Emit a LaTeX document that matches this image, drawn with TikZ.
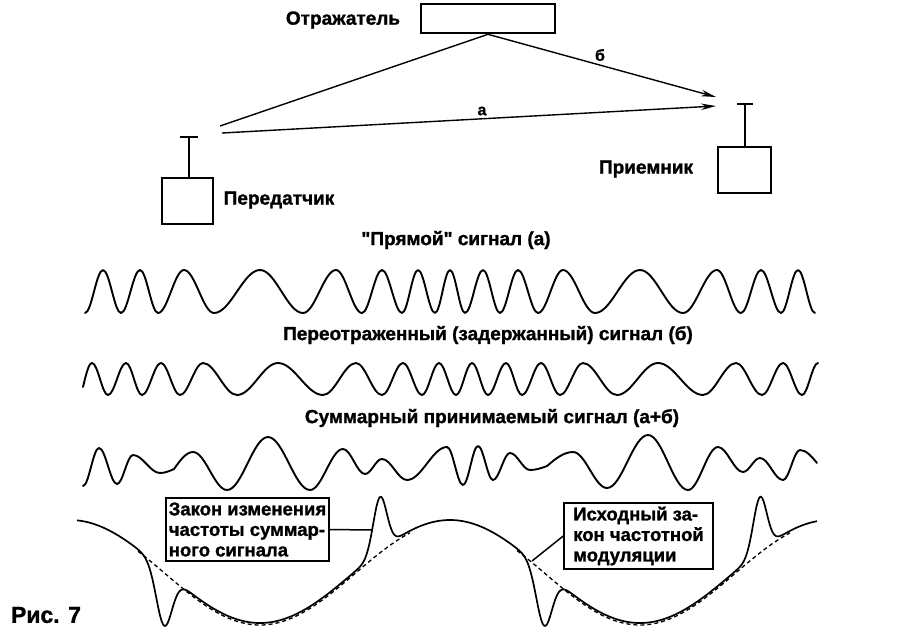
\documentclass[tikz,border=0pt]{standalone}
\usepackage{fontspec}
\setmainfont{Liberation Sans}[BoldFeatures={FakeBold=1.2}]
\usetikzlibrary{arrows.meta}
\begin{document}
\begin{tikzpicture}[x=1pt,y=-1pt,
  lbl/.style={font=\fontsize{19}{22}\selectfont\bfseries, inner sep=0pt},
  wave/.style={line width=1.9pt, line join=round, line cap=round},
  ray/.style={line width=1.4pt},
  devbox/.style={draw, line width=2.6pt, inner sep=0pt},
  lawbox/.style={draw, line width=1.5pt, inner sep=0pt, align=left, font=\fontsize{18.5}{20.5}\selectfont\bfseries},
  law/.style={line width=1.7pt, line join=round},
  lawd/.style={line width=1.3pt, dash pattern=on 4pt off 3pt},
  arr/.style={-{Stealth[length=15pt,width=6.5pt]}},
  declare function={D(\x)=571.5-51.5*cos((\x-70)*0.9473684);
    G(\x,\c,\w)=exp(-min(((\x-\c)/\w)^2,9));
    S(\x)=D(\x)+55*G(\x,164,11)-54*G(\x,380,9.5)+55*G(\x,544,11)-54*G(\x,760,9.5);}]
\useasboundingbox (0,0) rectangle (918,638);
\fill[white] (0,0) rectangle (918,638);

% top scheme
\node[devbox, minimum width=134pt, minimum height=29pt] (refl) at (488,18.5) {};
\node[lbl] (refllbl) at (343,20) {Отражатель};
\node[devbox, minimum width=51pt, minimum height=46pt] (tx) at (187.5,201) {};
\node[lbl] (txlbl) at (279,200) {Передатчик};
\node[devbox, minimum width=53pt, minimum height=46pt] (rx) at (744.5,170) {};
\node[lbl] (rxlbl) at (646,169) {Приемник};

\coordinate (txant) at (189,137);
\coordinate (rxant) at (745,104);
\draw[line width=1.6pt] (tx.north -| txant) -- (txant);
\draw[line width=1.6pt] ([xshift=-9pt]txant) -- ([xshift=9pt]txant);
\draw[line width=1.6pt] (rx.north -| rxant) -- (rxant);
\draw[line width=1.6pt] ([xshift=-8pt]rxant) -- ([xshift=8pt]rxant);

\coordinate (txb) at (220,126);
\coordinate (txa) at (222,133);
\coordinate (rxb) at (716,97);
\coordinate (rxa) at (716,106);
\draw[ray] (refl.south) -- (txb);
\draw[ray, arr] (refl.south) -- (rxb);
\draw[ray, arr] (txa) -- (rxa);
\node[lbl, font=\fontsize{16}{18}\selectfont\bfseries] (lb) at (600,55) {б};
\node[lbl, font=\fontsize{16}{18}\selectfont\bfseries] (la) at (482,111) {а};

% titles
\node[lbl] (t1) at (456,240) {\textquotedbl Прямой\textquotedbl\ сигнал (а)};
\node[lbl] (t2) at (488,335) {Переотраженный (задержанный) сигнал (б)};
\node[lbl] (t3) at (492,418) {Суммарный принимаемый сигнал (а+б)};

% wave a
\draw[wave] (85,313) cos (94,291.5) sin (103,270) cos (112,291.5) sin (121,313) cos (130.5,291.5) sin (140,270) cos (149,291.5) sin (158,313) cos (171,291.5) sin (184,270) cos (199,291.5) sin (214,313) cos (237,291.5) sin (260,270) cos (281.5,291.5) sin (303,313) cos (319.5,291.5) sin (336,270) cos (349,291.5) sin (362,313) cos (372,291.5) sin (382,270) cos (392,291.5) sin (402,313) cos (410,291.5) sin (418,270) cos (426.5,291.5) sin (435,313) cos (442.5,291.5) sin (450,270) cos (457.5,291.5) sin (465,313) cos (474,291.5) sin (483,270) cos (491.5,291.5) sin (500,313) cos (509,291.5) sin (518,270) cos (528,291.5) sin (538,313) cos (550.5,291.5) sin (563,270) cos (579,291.5) sin (595,313) cos (617.5,291.5) sin (640,270) cos (661.5,291.5) sin (683,313) cos (700,291.5) sin (717,270) cos (729,291.5) sin (741,313) cos (751,291.5) sin (761,270) cos (771,291.5) sin (781,313) cos (789.5,291.5) sin (798,270) cos (806.5,291.5) sin (815,313);

% wave b
\draw[wave] (83,387) sin (92,363) cos (100,379) sin (108,395) cos (117,379) sin (126,363) cos (134,379) sin (142,395) cos (151.5,379) sin (161,363) cos (170.5,379) sin (180,395) cos (191.5,379) sin (203,363) cos (220,379) sin (237,395) cos (257.5,379) sin (278,363) cos (300.5,379) sin (323,395) cos (339.5,379) sin (356,363) cos (369,379) sin (382,395) cos (392.5,379) sin (403,363) cos (412.5,379) sin (422,395) cos (430.5,379) sin (439,363) cos (447.5,379) sin (456,395) cos (464,379) sin (472,363) cos (480,379) sin (488,395) cos (497,379) sin (506,363) cos (514,379) sin (522,395) cos (531.5,379) sin (541,363) cos (550.5,379) sin (560,395) cos (571.5,379) sin (583,363) cos (600,379) sin (617,395) cos (637.5,379) sin (658,363) cos (680.5,379) sin (703,395) cos (719.5,379) sin (736,363) cos (749,379) sin (762,395) cos (772.5,379) sin (783,363) cos (792.5,379) sin (802,395) cos (810,379) sin (818,363);

% wave a+b
\draw[wave] (83,486) cos (91,467) sin (99,448) cos (108,466) sin (117,484) cos (125,469.5) sin (133,455) cos (146.5,464) sin (160,473) cos (174,469) sin (193,452) cos (210,471) sin (227,490) cos (247.5,463.5) sin (268,437) cos (289,463.5) sin (310,490) cos (326.5,469.5) sin (343,449) cos (354,461.5) sin (365,474) cos (373.5,466.5) sin (382,459) cos (394.5,469.5) sin (407,480) cos (427,463.5) sin (447,447) cos (455,466) sin (463,485) cos (470.5,465.5) sin (478,446) cos (485.5,463) sin (493,480) cos (501.5,466.5) sin (510,453) cos (520,461.5) sin (530,470) cos (547,466) sin (573,452) cos (590,470) sin (607,488) cos (627.5,461.5) sin (648,435) cos (668,462.5) sin (688,490) cos (703,468.5) sin (718,447) cos (730.5,459.5) sin (743,472) cos (751.5,465) sin (760,458) cos (771.5,469) sin (783,480) cos (791.5,465) sin (800,450) cos (817,463);

% frequency laws
\draw[law] plot[domain=77:817, samples=500] (\x,{S(\x)});
\draw[lawd] plot[domain=138:410, samples=120] (\x,{D(\x)+2});
\draw[lawd] plot[domain=517:790, samples=120] (\x,{D(\x)+2});

\node[lawbox, fill=white, minimum width=163pt, minimum height=63pt] (law1) at (247.5,529.5) {Закон изменения\\частоты суммар-\\ного сигнала};
\node[lawbox, fill=white, minimum width=149pt, minimum height=66pt] (law2) at (638.5,536) {Исходный за-\\кон частотной\\модуляции};
\coordinate (c1) at (372,530);
\coordinate (c2) at (532,561);
\draw[line width=1.5pt] (law1.east) -- (c1);
\draw[line width=1.5pt] (law2.west) -- (c2);

\node[lbl, font=\fontsize{23}{26}\selectfont\bfseries] (fig) at (46,615) {Рис. 7};
\end{tikzpicture}
\end{document}
